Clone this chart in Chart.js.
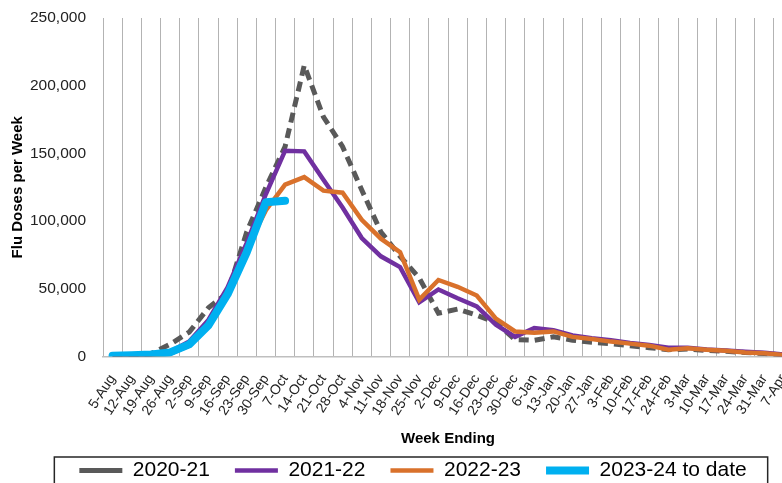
<!DOCTYPE html>
<html lang="en">
<head>
<meta charset="UTF-8">
<title>Flu Doses per Week</title>
<script src="https://cdn.jsdelivr.net/npm/chart.js"></script>
<style>
    html, body { margin: 0; padding: 0; background: #fff; overflow: hidden; }
    #wrap { width: 830px; height: 510px; }
</style>
</head>
<body>
<div id="wrap"><canvas id="fluChart" width="830" height="510"></canvas></div>
<script>
// week ending labels, Aug -> Apr
const weeks = ['5-Aug', '12-Aug', '19-Aug', '26-Aug', '2-Sep', '9-Sep', '16-Sep', '23-Sep', '30-Sep',
    '7-Oct', '14-Oct', '21-Oct', '28-Oct', '4-Nov', '11-Nov', '18-Nov', '25-Nov', '2-Dec', '9-Dec',
    '16-Dec', '23-Dec', '30-Dec', '6-Jan', '13-Jan', '20-Jan', '27-Jan', '3-Feb', '10-Feb', '17-Feb',
    '24-Feb', '3-Mar', '10-Mar', '17-Mar', '24-Mar', '31-Mar', '7-Apr'];

// doses per week
const season2020 = [500, 1000, 2000, 9000, 18000, 36000, 47000, 92000, 125000, 155000, 215000, 177000,
    155000, 123000, 92000, 74000, 58000, 32000, 35000, 30500, 25000, 12500, 12000, 14500, 12000, 10500,
    9500, 8000, 6500, 5000, 5500, 4500, 3800, 3000, 2200, 1200];
const season2021 = [500, 800, 1500, 3500, 11000, 27000, 51000, 84000, 120000, 152000, 151500, 130500,
    110000, 87500, 74000, 66000, 40000, 49500, 43000, 37000, 23500, 14500, 21000, 19500, 15500, 13500,
    12000, 10000, 8500, 6500, 6500, 5200, 4500, 3500, 2800, 1500];
const season2022 = [300, 600, 1000, 2000, 8000, 24000, 48000, 80000, 108000, 127000, 132500, 122500,
    121000, 101000, 87000, 77000, 42000, 56500, 51500, 45000, 28000, 18500, 17500, 18500, 14500, 13000,
    11000, 9500, 8000, 5000, 6000, 5000, 4200, 3000, 2400, 1200];
const season2023 = [500, 1000, 1500, 3000, 9000, 23000, 46000, 77000, 114000, 115000];

const yTicks = [0, 50000, 100000, 150000, 200000, 250000];

Chart.defaults.font.family = "'Liberation Sans', Arial, sans-serif";
Chart.defaults.color = '#333';

// legend sits a little right of centre with a thin frame round it (Excel style)
const legendFrame = {
    id: 'legendFrame',
    beforeDraw(chart) {
        const lg = chart.legend;
        const h = lg.bottom - lg.top;
        lg.left = 0;
        lg.right = 826;
        lg.top = 435;
        lg.bottom = lg.top + h;
    },
    afterDraw(chart) {
        const lg = chart.legend;
        const pad = lg.options.labels.padding;
        const rowW = lg.lineWidths[0];
        const x0 = (lg.left + pad + lg.right - rowW) / 2;
        const x1 = x0 + rowW - pad;
        const ctx = chart.ctx;
        ctx.save();
        ctx.strokeStyle = '#262626';
        ctx.lineWidth = 1.5;
        ctx.strokeRect(x0 - 25, lg.top + pad - 3, x1 - x0 + 46, 60);
        ctx.restore();
    }
};

const line = (label, data, color, width, extra) => Object.assign({
    label: label,
    data: data,
    borderColor: color,
    backgroundColor: color,
    borderWidth: width,
    pointRadius: 0,
    pointHoverRadius: 0,
    tension: 0,
    fill: false
}, extra);

new Chart(document.getElementById('fluChart'), {
    type: 'line',
    data: {
        labels: weeks,
        datasets: [
            line('2020-21', season2020, '#595959', 5, { borderDash: [10, 6], order: 4 }),
            line('2021-22', season2021, '#7030A0', 4.5, { order: 3 }),
            line('2022-23', season2022, '#D9712B', 4.5, { order: 2 }),
            line('2023-24 to date', season2023, '#00B0F0', 8, { borderCapStyle: 'round', borderJoinStyle: 'round', order: 1 })
        ]
    },
    options: {
        responsive: false,
        animation: false,
        devicePixelRatio: 1,
        layout: { padding: { top: 18, left: 0, right: 37, bottom: 0 } },
        plugins: {
            tooltip: { enabled: false },
            legend: {
                position: 'bottom',
                labels: {
                    usePointStyle: true,
                    pointStyle: 'line',
                    pointStyleWidth: 43,
                    padding: 25,
                    color: '#000',
                    font: { size: 21 },
                    sort: (a, b) => a.datasetIndex - b.datasetIndex
                }
            }
        },
        scales: {
            x: {
                offset: true,
                grid: { offset: true, color: '#b3b3b3', drawTicks: false },
                border: { color: '#bfbfbf', width: 1.5 },
                ticks: {
                    autoSkip: false,
                    maxRotation: 57,
                    minRotation: 57,
                    padding: 15,
                    color: '#222',
                    font: { size: 14 }
                },
                title: {
                    display: true,
                    text: 'Week Ending',
                    color: '#000',
                    font: { size: 15, weight: 'bold' },
                    padding: { top: 0, bottom: 6.5 }
                },
                afterFit(scale) { scale.height = 97.5; }
            },
            y: {
                min: yTicks[0],
                max: yTicks[yTicks.length - 1],
                grid: { display: false, drawTicks: false },
                border: { display: false },
                afterBuildTicks(scale) { scale.ticks = yTicks.map(v => ({ value: v })); },
                ticks: {
                    padding: 17,
                    color: '#222',
                    font: { size: 15.5 },
                    callback: v => v.toLocaleString('en-US')
                },
                title: {
                    display: true,
                    text: 'Flu Doses per Week',
                    color: '#000',
                    font: { size: 15, weight: 'bold' },
                    padding: { top: 8.5, bottom: 0 }
                },
                afterFit(scale) {
                    scale.width = 103;
                    // keep the plot top level with the reference, tick padding would push it down
                    scale.paddingTop = 9;
                    scale.paddingBottom = 9;
                }
            }
        }
    },
    plugins: [legendFrame]
});
</script>
</body>
</html>
